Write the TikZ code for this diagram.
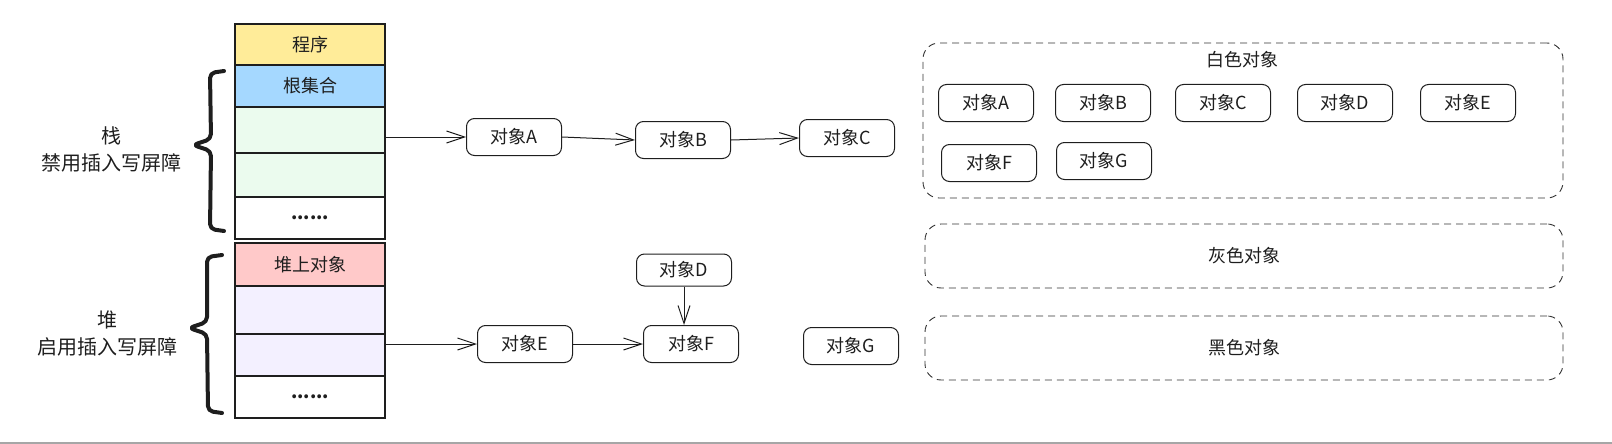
\documentclass[tikz,border=0pt]{standalone}
\usepackage{fontspec}
\setmainfont{Noto Sans CJK SC}
\usetikzlibrary{arrows.meta,positioning}
\definecolor{inkblack}{HTML}{1E1E1E}
\definecolor{progyellow}{HTML}{FFEC99}
\definecolor{rootblue}{HTML}{A5D8FF}
\definecolor{stackgreen}{HTML}{EBFBEE}
\definecolor{heapred}{HTML}{FFC9C9}
\definecolor{heappurple}{HTML}{F3F0FF}

\begin{document}
\begin{tikzpicture}[x=1pt,y=-1pt,
    every node/.style={text=inkblack,font=\fontsize{18}{27}\selectfont},
    cell/.style={draw=inkblack,line width=1.6pt,minimum width=150pt,inner sep=0pt,outer sep=0pt},
    obj/.style={draw=inkblack,line width=1pt,rounded corners=8pt,minimum width=95pt,minimum height=37pt,inner sep=0pt},
    grp/.style={draw=black!80,line width=0.9pt,dash pattern=on 7pt off 5pt,rounded corners=16pt,inner sep=0pt},
    ref/.style={draw=inkblack,line width=1pt,-{Straight Barb[length=18pt,width=12pt]}},
    brace/.style={draw=inkblack,line width=4pt,rounded corners=5pt,line cap=round,line join=round}]
    \useasboundingbox (0,0) rectangle (1612,444);

    % stack column
    \node[cell,fill=progyellow,minimum height=41pt] (prog) at (310,44.5) {程序};
    \node[cell,fill=rootblue,minimum height=42pt,below=0pt of prog] (root) {根集合};
    \node[cell,fill=stackgreen,minimum height=46pt,below=0pt of root] (sg1) {};
    \node[cell,fill=stackgreen,minimum height=44pt,below=0pt of sg1] (sg2) {};
    \node[cell,fill=white,minimum height=42pt,below=0pt of sg2] (sdots) {\textbf{......}};

    % heap column
    \node[cell,fill=heapred,minimum height=43pt] (hobj) at (310,264.5) {堆上对象};
    \node[cell,fill=heappurple,minimum height=48pt,below=0pt of hobj] (hp1) {};
    \node[cell,fill=heappurple,minimum height=42pt,below=0pt of hp1] (hp2) {};
    \node[cell,fill=white,minimum height=42pt,below=0pt of hp2] (hdots) {\textbf{......}};

    % braces and labels
    \draw[brace] (224,71) -- (210,73) -- (211,139) -- (193,145) -- (211,151) -- (210,229) -- (224,231);
    \draw[brace] (222,255) -- (207,257) -- (207,322) -- (189,328) -- (207,334) -- (208,411) -- (222,413);
    \node[align=center,font=\fontsize{20}{27}\selectfont] (stacklbl) at (111,149) {栈\\禁用插入写屏障};
    \node[align=center,font=\fontsize{20}{27}\selectfont] (heaplbl) at (107,333) {堆\\启用插入写屏障};

    % reference chains
    \node[obj] (objA) at (514,137) {对象A};
    \node[obj] (objB) at (683,140) {对象B};
    \node[obj] (objC) at (847,138) {对象C};
    \node[obj,minimum height=32pt] (objD) at (684,270) {对象D};
    \node[obj] (objE) at (525,344) {对象E};
    \node[obj] (objF) at (691,344) {对象F};
    \node[obj] (objG) at (851,346) {对象G};

    \draw[ref] (sg1.east |- objA.west) -- (objA.west);
    \draw[ref] (objA.east) -- (objB.west);
    \draw[ref] (objB.east) -- (objC.west);
    \draw[ref] (hp2.east |- objE.west) -- (objE.west);
    \draw[ref] (objE.east) -- (objF.west);
    \draw[ref] (objD.south) -- (objD.south |- objF.north);

    % colour sets
    \node[grp,minimum width=640pt,minimum height=155pt] (white) at (1243,120.5) {};
    \node (whitelbl) at (1242,60) {白色对象};
    \node[obj] (wA) at (986,103) {对象A};
    \node[obj] (wB) at (1103,103) {对象B};
    \node[obj] (wC) at (1223,103) {对象C};
    \node[obj] (wD) at (1345,103) {对象D};
    \node[obj] (wE) at (1468,103) {对象E};
    \node[obj] (wF) at (989,163) {对象F};
    \node[obj] (wG) at (1104,161) {对象G};
    \node[grp,minimum width=638pt,minimum height=64pt] (gray) at (1244,256) {灰色对象};
    \node[grp,minimum width=638pt,minimum height=64pt] (black) at (1244,348) {黑色对象};

    \draw[black!35,line width=1.5pt] (0,443) -- (1612,443);
\end{tikzpicture}
\end{document}
